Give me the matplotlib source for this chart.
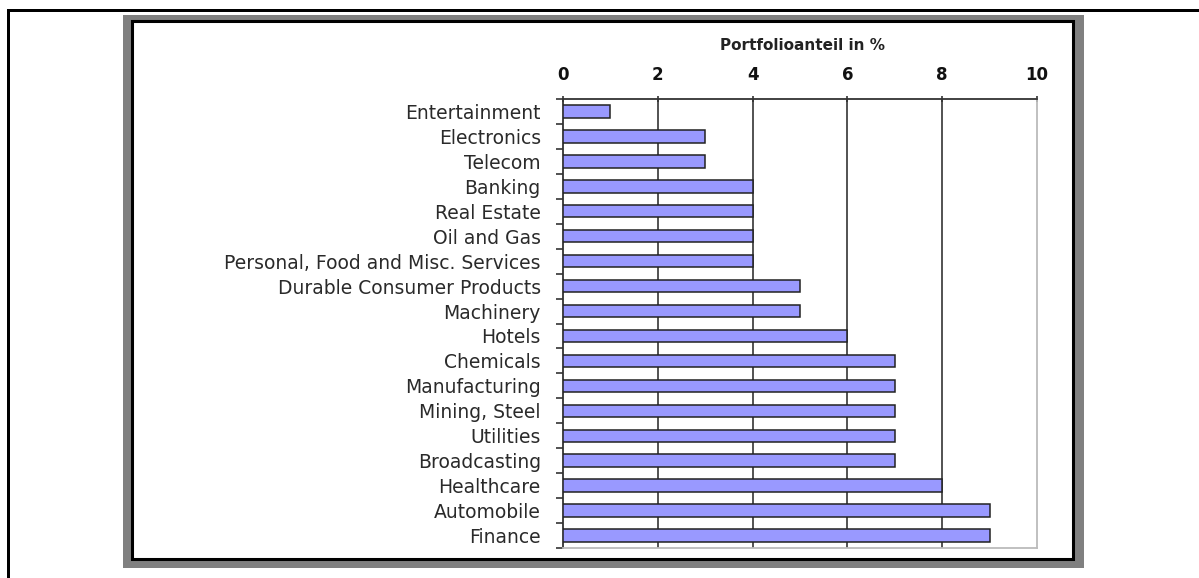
import matplotlib
matplotlib.use("Agg")
import matplotlib.pyplot as plt
from matplotlib.patches import Rectangle
import numpy as np

categories = ["Entertainment", "Electronics", "Telecom", "Banking", "Real Estate",
              "Oil and Gas", "Personal, Food and Misc. Services",
              "Durable Consumer Products", "Machinery", "Hotels", "Chemicals",
              "Manufacturing", "Mining, Steel", "Utilities", "Broadcasting",
              "Healthcare", "Automobile", "Finance"]
values = [1, 3, 3, 4, 4, 4, 4, 5, 5, 6, 7, 7, 7, 7, 7, 8, 9, 9]
xticks = [0, 2, 4, 6, 8, 10]
title = "Portfolioanteil in %"

W, H = 1199, 578
plt.rcParams['font.family'] = ['DejaVu Sans']
fig = plt.figure(figsize=(W / 100, H / 100), dpi=100)

def px_rect(x0, y0, x1, y1, **kw):
    r = Rectangle((x0 / W, 1 - y1 / H), (x1 - x0) / W, (y1 - y0) / H,
                  transform=fig.transFigure, **kw)
    fig.add_artist(r)
    return r

# outer black border (top and left)
px_rect(7, 9, W, 12, facecolor="black", edgecolor="none", zorder=0)
px_rect(7, 9, 10, H, facecolor="black", edgecolor="none", zorder=0)
# gray shadow frame and white panel
px_rect(123, 15, 1084, 568, facecolor="#808080", edgecolor="none", zorder=0)
px_rect(132, 21, 1073, 559, facecolor="white", edgecolor="black", linewidth=2.2, zorder=0)

ax = fig.add_axes([563 / W, 1 - 548 / H, (1037 - 563) / W, (548 - 99) / H])
ax.set_zorder(1)
ax.patch.set_alpha(0)

y = np.arange(len(categories))
ax.barh(y, values, height=0.5, color="#9999FF", edgecolor="#222222", linewidth=1.1, zorder=3)

ax.set_xlim(0, 10)
ax.set_ylim(len(categories) - 0.5, -0.5)
ax.xaxis.tick_top()
ax.xaxis.set_label_position("top")
ax.set_xticks(xticks)
ax.set_xticklabels([str(t) for t in xticks], fontsize=12, fontweight="bold", color="#111111")
ax.tick_params(axis="x", direction="inout", length=5, width=1.2, color="#333333", pad=8)

ax.set_yticks(y)
ax.set_yticklabels(categories, fontsize=13.5, color="#2a2a2a")
ax.set_yticks(np.arange(-0.5, len(categories), 1), minor=True)
ax.tick_params(axis="y", which="major", length=0, pad=16)
ax.tick_params(axis="y", which="minor", length=5, width=1.2, color="#333333", direction="out")

for t in xticks[1:-1]:
    ax.axvline(t, color="#444444", linewidth=1.3, zorder=1)

for s in ["top", "left"]:
    ax.spines[s].set_color("#333333")
    ax.spines[s].set_linewidth(1.3)
for s in ["right", "bottom"]:
    ax.spines[s].set_color("#BBBBBB")
    ax.spines[s].set_linewidth(1.3)

fig.text(802 / W, 1 - 45 / H, title, ha="center", va="center",
         fontsize=11, fontweight="bold", color="#222222")

fig.savefig("out.png", dpi=100)
